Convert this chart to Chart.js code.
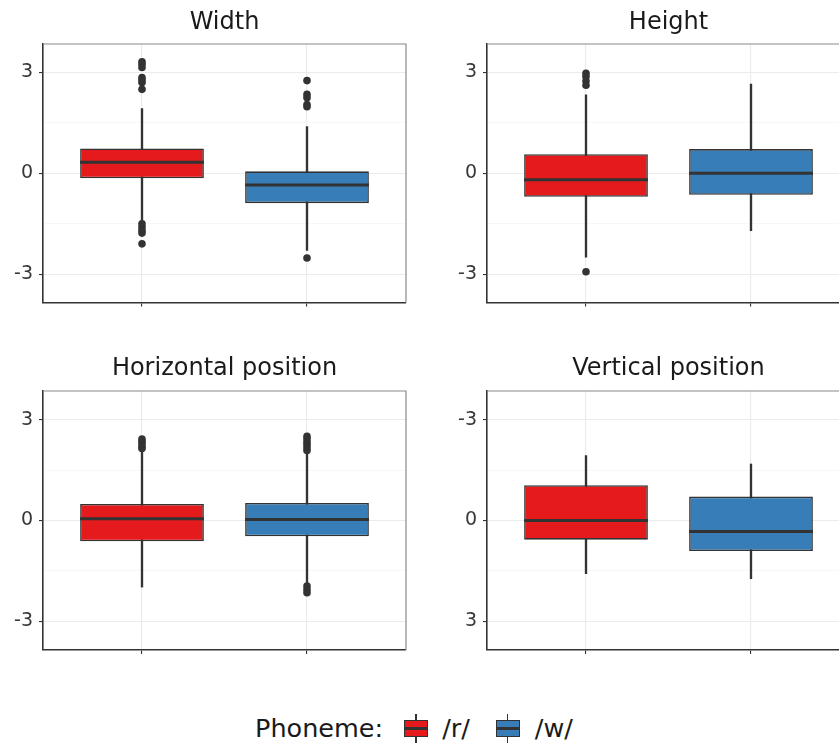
<!DOCTYPE html>
<html>
<head>
<meta charset="utf-8">
<script src="https://cdn.jsdelivr.net/npm/chart.js@4.4.1/dist/chart.umd.min.js"></script>
<style>
  html, body { margin: 0; padding: 0; background: #fff; overflow: hidden; }
  body { width: 839px; height: 744px; position: relative; font-family: "DejaVu Sans", sans-serif; color: #1a1a1a; }
  canvas { position: absolute; }
  .title { position: absolute; width: 363px; text-align: center; font-size: 24px; line-height: 1; white-space: nowrap; }
  .legend { position: absolute; left: 255px; top: 714px; font-size: 25.5px; line-height: 1; display: flex; align-items: center; white-space: nowrap; }
  .key { position: relative; width: 24px; height: 29px; }
  .key .wh { position: absolute; left: 11px; top: 0; width: 1.6px; height: 29px; background: #333; }
  .key .bx { position: absolute; left: 0; top: 6px; width: 24px; height: 17px; box-sizing: border-box; border: 1.5px solid #333; }
  .key .md { position: absolute; left: 0; top: 13px; width: 24px; height: 2.6px; background: #333; }
</style>
</head>
<body>
<canvas id="c1" width="420" height="320" style="left:0;top:0"></canvas>
<canvas id="c2" width="440" height="320" style="left:420px;top:0"></canvas>
<canvas id="c3" width="420" height="330" style="left:0;top:340px"></canvas>
<canvas id="c4" width="440" height="330" style="left:420px;top:340px"></canvas>

<div class="title" style="left:43px;top:9px">Width</div>
<div class="title" style="left:487px;top:9px">Height</div>
<div class="title" style="left:43px;top:355px">Horizontal position</div>
<div class="title" style="left:487px;top:355px">Vertical position</div>

<div class="legend">
  <span>Phoneme:</span>
  <span class="key" style="margin:0 14px 0 21px"><span class="wh"></span><span class="bx" style="background:#E41A1C"></span><span class="md"></span></span>
  <span>/r/</span>
  <span class="key" style="margin:0 15px 0 26px"><span class="wh"></span><span class="bx" style="background:#377EB8"></span><span class="md"></span></span>
  <span>/w/</span>
</div>

<script>
  "use strict";

  // Data: [lower whisker, Q1, median, Q3, upper whisker]
  var categories = ["/r/", "/w/"];
  var yTicks = [-3, 0, 3];

  var widthR = [-1.45, -0.15, 0.33, 0.74, 1.93];
  var widthW = [-2.3, -0.89, -0.35, 0.06, 1.39];
  var widthOutR = [3.32, 3.25, 3.15, 2.85, 2.78, 2.7, 2.5, -1.5, -1.6, -1.7, -1.78, -2.1];
  var widthOutW = [2.76, 2.35, 2.25, 2.05, 1.98, -2.52];

  var heightR = [-2.5, -0.7, -0.19, 0.57, 2.34];
  var heightW = [-1.71, -0.64, 0.0, 0.72, 2.66];
  var heightOutR = [2.98, 2.88, 2.75, 2.62, -2.93];
  var heightOutW = [];

  var horizR = [-1.98, -0.62, 0.05, 0.49, 2.08];
  var horizW = [-1.88, -0.47, 0.03, 0.52, 1.98];
  var horizOutR = [2.42, 2.35, 2.28, 2.2, 2.14];
  var horizOutW = [2.5, 2.42, 2.33, 2.25, 2.16, 2.08, -1.95, -2.05, -2.15];

  var vertR = [-1.93, -1.05, 0.0, 0.57, 1.58];
  var vertW = [-1.68, -0.71, 0.33, 0.91, 1.73];
  var vertOutR = [];
  var vertOutW = [];

  var colors = ["#E41A1C", "#377EB8"];
  var ink = "#333333";

  // top and right panel border
  var frame = {
    id: "frame",
    beforeDatasetsDraw: function (chart) {
      var ctx = chart.ctx, a = chart.chartArea;
      ctx.save();
      ctx.strokeStyle = "#8a8a8a";
      ctx.lineWidth = 1.2;
      ctx.beginPath();
      ctx.moveTo(a.left, a.top);
      ctx.lineTo(a.right, a.top);
      ctx.lineTo(a.right, a.bottom);
      ctx.stroke();
      ctx.restore();
    },
  };

  function isMajor(v) {
    return yTicks.indexOf(v) !== -1;
  }

  function boxChart(id, stats, outliers, reversed, pad, yw, xh) {
    var pos = categories.map(function (c, i) { return i + 1; });
    var whiskers = [], boxes = [], medians = [], points = [];
    stats.forEach(function (s, i) {
      whiskers.push({ x: pos[i], y: [s[0], s[4]] });
      boxes.push({ x: pos[i], y: [s[1], s[3]] });
      medians.push({ x: pos[i], y: s[2] });
      outliers[i].forEach(function (v) { points.push({ x: pos[i], y: v }); });
    });

    return new Chart(document.getElementById(id), {
      type: "bar",
      data: {
        datasets: [
          { data: whiskers, backgroundColor: ink, barThickness: 1.7, grouped: false, order: 3 },
          {
            data: boxes, backgroundColor: colors, borderColor: ink, borderWidth: 1.6,
            borderSkipped: false, grouped: false, barPercentage: 0.75, categoryPercentage: 1, order: 2,
          },
          {
            type: "scatter", data: medians, pointStyle: "line", pointRadius: 62,
            borderColor: ink, borderWidth: 3, order: 1,
          },
          {
            type: "scatter", data: points, pointRadius: 3.8, backgroundColor: ink,
            borderWidth: 0, order: 0,
          },
        ],
      },
      options: {
        responsive: false,
        animation: false,
        layout: { padding: pad, autoPadding: false },
        plugins: { legend: { display: false }, tooltip: { enabled: false } },
        scales: {
          x: {
            type: "linear", min: 0.4, max: 2.6, offset: false,
            afterFit: function (s) { s.height = xh; },
            ticks: { stepSize: 1, includeBounds: false, display: false },
            grid: { offset: false, color: "#ebebeb", lineWidth: 1.1, tickLength: 4, tickColor: ink },
            border: { color: ink, width: 1.6 },
          },
          y: {
            min: -3.85, max: 3.85, reverse: reversed,
            afterFit: function (s) { s.width = yw; },
            ticks: {
              stepSize: 1.5, includeBounds: false, padding: 6, color: "#383838",
              font: { family: "DejaVu Sans", size: 19 },
              callback: function (v) { return isMajor(v) ? String(v) : ""; },
            },
            grid: {
              color: function (c) { return isMajor(c.tick.value) ? "#ebebeb" : "#f4f4f4"; },
              lineWidth: function (c) { return isMajor(c.tick.value) ? 1.1 : 0.7; },
              tickLength: 4,
              tickColor: function (c) { return isMajor(c.tick.value) ? ink : "rgba(0,0,0,0)"; },
            },
            border: { color: ink, width: 1.6 },
          },
        },
      },
      plugins: [frame],
    });
  }

  boxChart("c1", [widthR, widthW], [widthOutR, widthOutW], false, { top: 44, right: 14, left: 0, bottom: 0 }, 43, 17);
  boxChart("c2", [heightR, heightW], [heightOutR, heightOutW], false, { top: 44, right: 10, left: 0, bottom: 0 }, 67, 17);
  boxChart("c3", [horizR, horizW], [horizOutR, horizOutW], false, { top: 51, right: 14, left: 0, bottom: 0 }, 43, 20);
  boxChart("c4", [vertR, vertW], [vertOutR, vertOutW], true, { top: 51, right: 10, left: 0, bottom: 0 }, 67, 20);
</script>
</body>
</html>
